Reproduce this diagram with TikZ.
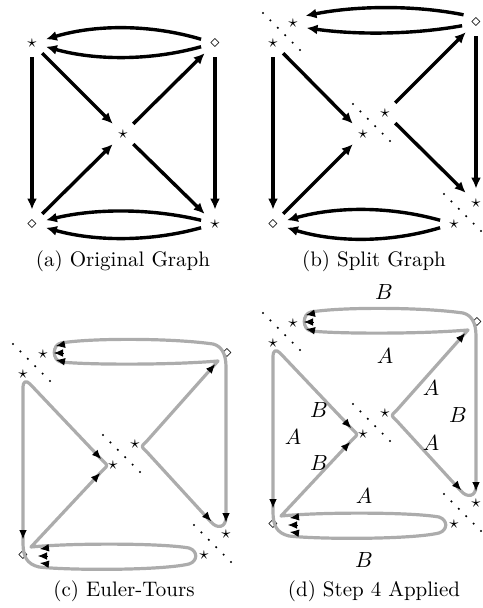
\documentclass[tikz,border=0pt]{standalone}
\usetikzlibrary{arrows.meta,calc}
\definecolor{tourgray}{RGB}{172,172,172}
\tikzset{
 vtx/.style={circle, inner sep=0pt, minimum size=14pt, font=\fontsize{9}{10}\selectfont},
 arr/.style={line width=1.7pt, -{Latex[length=5.5pt,width=5pt]}},
 tour/.style={draw=tourgray, line width=1.6pt, line join=round, line cap=round},
 ttip/.style={-{Latex[length=4.5pt,width=3.8pt]}, line width=0.4pt, black},
 capt/.style={font=\fontsize{10.5}{12}\selectfont},
 lbl/.style={font=\fontsize{10.5}{12}\selectfont},
}
\newcommand{\sepdots}[2]{\foreach \k in {0,...,5}{\fill ({#1-10+7.4*\k},{#2-30+7.4*\k}) circle[radius=0.6pt];}}
\newcommand{\ttp}[4]{\draw[ttip] ({#1-(#3)},{#2-(#4)}) -- (#1,#2);}
\newcommand{\splitvertices}[1]{%
 \node[vtx] (#1S1) at (52,23) {$\star$};
 \node[vtx] (#1S2) at (32,43) {$\star$};
 \node[vtx] (#1D) at (236,22) {$\diamond$};
 \node[vtx] (#1C1) at (144,113) {$\star$};
 \node[vtx] (#1C2) at (122,134) {$\star$};
 \node[vtx] (#1R1) at (235,203) {$\star$};
 \node[vtx] (#1R2) at (213,224) {$\star$};
 \node[vtx] (#1L) at (32,224) {$\diamond$};
 \sepdots{32}{43}\sepdots{122}{134}\sepdots{213}{224}}
\newcommand{\drawtours}{%
 \draw[tour] (155,111) -- (227,30)
  .. controls (180,34) and (100,34) .. (70,31)
  .. controls (61,29) and (61,14) .. (70,12)
  .. controls (100,7) and (180,7) .. (222,13)
  .. controls (230,15) and (235,22) .. (235,36)
  -- (235,186)
  .. controls (235,197) and (226,198) .. (220,191)
  -- (155,120)
  .. controls (150,115.5) and (150,115.5) .. (155,111) -- cycle;
 \draw[tour] (112,139) -- (40,216)
  .. controls (80,212) and (170,212) .. (198,217)
  .. controls (207,220) and (207,230) .. (198,233)
  .. controls (170,239.5) and (80,239.5) .. (48,236)
  .. controls (36,233) and (32,226) .. (32,212)
  -- (32,57)
  .. controls (32,50) and (35,49) .. (39,53)
  -- (112,130)
  .. controls (117,134.5) and (117,134.5) .. (112,139) -- cycle;
 \ttp{65}{15}{-9}{1.8}\ttp{63}{22}{-9}{0}\ttp{65}{29}{-9}{-1.8}
 \ttp{224}{33.4}{6}{-6.7}
 \ttp{235}{191}{0}{9}
 \ttp{220}{190}{6}{6.5}
 \ttp{110}{127.9}{6.2}{6.5}
 \ttp{109}{142.2}{6.2}{-6.5}
 \ttp{32}{208}{0}{9}
 \ttp{49}{218}{-9}{1.2}\ttp{47}{225}{-9}{0}\ttp{49}{232}{-9}{-1.2}}
\begin{document}
\begin{tikzpicture}[x=0.5pt,y=-0.5pt]
\useasboundingbox (0,0) rectangle (482,608);
% ---------- (a)
\node[vtx] (aTL) at (32,43) {$\star$};
\node[vtx] (aTR) at (215,43) {$\diamond$};
\node[vtx] (aC) at (123,134) {$\star$};
\node[vtx] (aBL) at (32,224) {$\diamond$};
\node[vtx] (aBR) at (215,224) {$\star$};
\draw[arr] (aTR.165) .. controls +(-50,-15) and +(50,-15) .. (aTL.15);
\draw[arr] (aTR.195) .. controls +(-50,14) and +(50,14) .. (aTL.-15);
\draw[arr] (aTL) -- (aBL);
\draw[arr] (aTR) -- (aBR);
\draw[arr] (aTL) -- (aC);
\draw[arr] (aC) -- (aTR);
\draw[arr] (aBL) -- (aC);
\draw[arr] (aC) -- (aBR);
\draw[arr] (aBR.165) .. controls +(-50,-12) and +(50,-12) .. (aBL.15);
\draw[arr] (aBR.195) .. controls +(-50,14) and +(50,14) .. (aBL.-15);
\node[capt] (capa) at (123,261) {(a) Original Graph};
% ---------- (b)
\node[vtx] (bS1) at (293,23) {$\star$};
\node[vtx] (bS2) at (273,43) {$\star$};
\node[vtx] (bD) at (476,22) {$\diamond$};
\node[vtx] (bC1) at (385,113) {$\star$};
\node[vtx] (bC2) at (363,134) {$\star$};
\node[vtx] (bR1) at (476,203) {$\star$};
\node[vtx] (bR2) at (454,224) {$\star$};
\node[vtx] (bL) at (273,224) {$\diamond$};
\sepdots{273}{43}\sepdots{363}{134}\sepdots{454}{224}
\draw[arr] (bD.150) .. controls +(-50,-10) and +(50,-10) .. (bS1.30);
\draw[arr] (bD.195) .. controls +(-50,9) and +(50,7) .. (bS1.-20);
\draw[arr] (bS2) -- (bL);
\draw[arr] (bS2) -- (bC2);
\draw[arr] (bC1) -- (bD);
\draw[arr] (bL) -- (bC2);
\draw[arr] (bC1) -- (bR1);
\draw[arr] (bD) -- (bR1);
\draw[arr] (bR2.165) .. controls +(-50,-14) and +(50,-14) .. (bL.15);
\draw[arr] (bR2.195) .. controls +(-50,15) and +(50,15) .. (bL.-15);
\node[capt] (capb) at (374,261) {(b) Split Graph};
% ---------- (c)
\begin{scope}[shift={(-9,331)}]
\splitvertices{c}
\drawtours
\end{scope}
\node[capt] (capc) at (124,591) {(c) Euler-Tours};
% ---------- (d)
\begin{scope}[shift={(241,300)}]
\splitvertices{d}
\drawtours
\end{scope}
\node[lbl] (lB1) at (384,292) {$B$};
\node[lbl] (lA1) at (385,356) {$A$};
\node[lbl] (lA2) at (431,388) {$A$};
\node[lbl] (lB2) at (458,415) {$B$};
\node[lbl] (lA3) at (431,443) {$A$};
\node[lbl] (lB3) at (319,410) {$B$};
\node[lbl] (lA4) at (293,437) {$A$};
\node[lbl] (lB4) at (319,463) {$B$};
\node[lbl] (lA5) at (364,496) {$A$};
\node[lbl] (lB5) at (364,560) {$B$};
\node[capt] (capd) at (374,591) {(d) Step 4 Applied};
\end{tikzpicture}
\end{document}
